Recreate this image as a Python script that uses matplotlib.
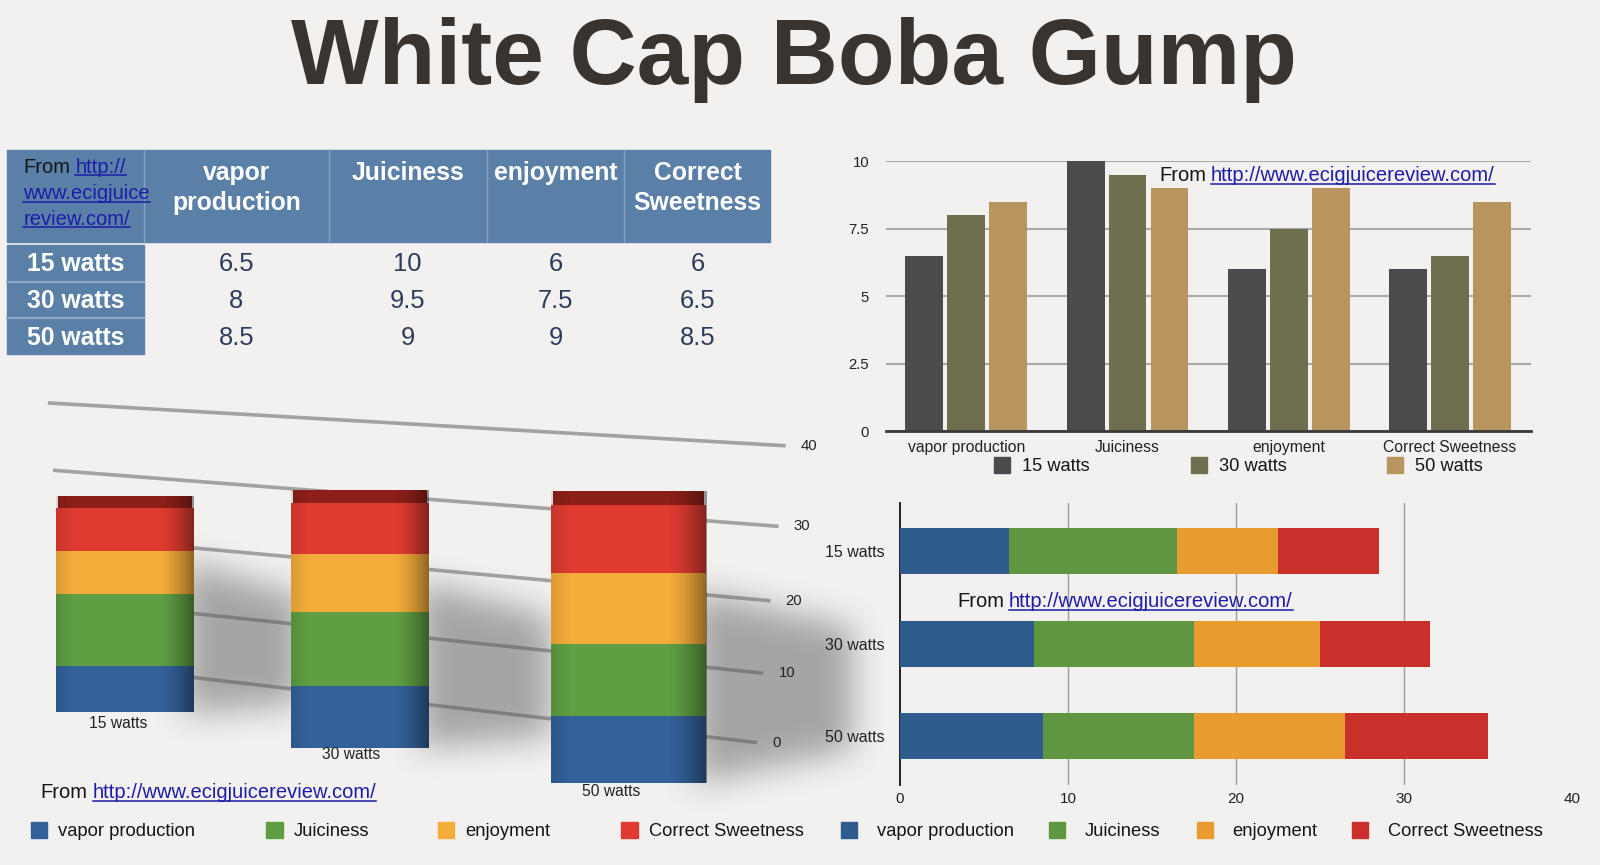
import numpy as np
import matplotlib
matplotlib.use("Agg")
import matplotlib.pyplot as plt
from matplotlib.patches import Rectangle
from matplotlib.path import Path

plt.rcParams['font.family'] = ['Liberation Sans', 'DejaVu Sans']

# ---- data ----
title = "White Cap Boba Gump"
url = "http://www.ecigjuicereview.com/"
watts = ["15 watts", "30 watts", "50 watts"]
criteria = ["vapor production", "Juiciness", "enjoyment", "Correct Sweetness"]
header_lines = [["vapor", "production"], ["Juiciness"], ["enjoyment"], ["Correct", "Sweetness"]]
vapor = [6.5, 8, 8.5]
juiciness = [10, 9.5, 9]
enjoyment = [6, 7.5, 9]
sweetness = [6, 6.5, 8.5]
scores = [vapor, juiciness, enjoyment, sweetness]
value_ticks = [0, 2.5, 5, 7.5, 10]
value_tick_labels = ["0", "2.5", "5", "7.5", "10"]
total_ticks = [0, 10, 20, 30, 40]

# ---- style ----
# layout works in a 1568 x 848 coordinate space, scaled to the 1600 x 865 output
W, H = 1568, 848
FS = 1600 / 1568
BG = '#f2f1f0'
HEAD = '#5b80a8'
LINK = '#1c1ca8'
watt_colors = ['#4b4b4e', '#6f6f50', '#b8955f']
colors_3d = ['#33619a', '#5f9e43', '#f4ac3a', '#df3b31']
colors_h = ['#2f5b8d', '#5f9641', '#e89b2e', '#c9302b']

fig = plt.figure(figsize=(16, 8.65), dpi=100, facecolor=BG)
bg = fig.add_axes([0, 0, 1, 1])
bg.set_xlim(0, W)
bg.set_ylim(H, 0)
bg.axis('off')
bg.set_zorder(0)
fg = fig.add_axes([0, 0, 1, 1])
fg.set_xlim(0, W)
fg.set_ylim(H, 0)
fg.axis('off')
fg.set_zorder(10)
renderer = fig.canvas.get_renderer()


def px_axes(x0, y0, x1, y1, z=2):
    ax = fig.add_axes([x0 / W, 1 - y1 / H, (x1 - x0) / W, (y1 - y0) / H])
    ax.set_zorder(z)
    ax.patch.set_alpha(0)
    return ax


def draw_parts(x, y, parts, size, ax=bg):
    # parts: list of (text, is_link); y is the baseline
    inv = ax.transData.inverted()
    for txt, is_link in parts:
        t = ax.text(x, y, txt, fontsize=size * FS, va='baseline', ha='left',
                    color=LINK if is_link else '#151515')
        bb = t.get_window_extent(renderer)
        x_end = inv.transform((bb.x1, bb.y0))[0]
        if is_link:
            ax.plot([x, x_end], [y + 2.5, y + 2.5], color=LINK, lw=1.1)
        x = x_end + size * 1.36 * 0.25


# ---- title ----
bg.text(778, 82, title, ha='center', va='baseline', fontsize=65.5 * FS,
        fontweight='bold', color='#3a3431')

# ---- table ----
col_edges = [7, 141, 322, 477, 612, 755]
row_base = [266, 302, 338]
bg.add_patch(Rectangle((7, 147), 748, 90, color=HEAD, zorder=1))
for xe in col_edges[1:-1]:
    bg.plot([xe, xe], [147, 237], color='#86a3c3', lw=1, zorder=1.5)
bg.add_patch(Rectangle((7, 240), 134, 107, color=HEAD, zorder=1))
for ye in [276, 312]:
    bg.plot([7, 141], [ye, ye], color='#8ba7c6', lw=1.5, zorder=1.5)

draw_parts(23, 169.5, [("From", False), ("http://", True)], 14.2)
draw_parts(23, 195.5, [("www.ecigjuice", True)], 14.2)
draw_parts(23, 220.5, [("review.com/", True)], 14.2)

for c, lines in enumerate(header_lines):
    cx = (col_edges[c + 1] + col_edges[c + 2]) / 2
    for k, ln in enumerate(lines):
        bg.text(cx, 176 + 30 * k, ln, ha='center', va='baseline', fontsize=17.5 * FS,
                fontweight='bold', color='white', zorder=2)

for r, w in enumerate(watts):
    bg.text(74, row_base[r], w, ha='center', va='baseline', fontsize=17.5 * FS,
            fontweight='bold', color='white', zorder=2)
    for c in range(4):
        cx = (col_edges[c + 1] + col_edges[c + 2]) / 2
        bg.text(cx, row_base[r], f"{scores[c][r]:g}", ha='center', va='baseline',
                fontsize=18 * FS, color='#2d3c5c', zorder=2)

# ---- top right grouped bars ----
gx = px_axes(868, 158, 1500, 423)
x = np.arange(len(criteria))
for k in range(len(watts)):
    gx.bar(x + (k - 1) * 0.26, [s[k] for s in scores], width=0.235,
           color=watt_colors[k], zorder=3)
gx.set_xlim(-0.5, 3.5)
gx.set_ylim(0, 10)
gx.set_yticks(value_ticks, value_tick_labels)
gx.set_xticks(x, criteria)
gx.yaxis.grid(True, color='#a9a9a9', lw=1.5)
gx.set_axisbelow(True)
for s in ['top', 'right', 'left']:
    gx.spines[s].set_visible(False)
gx.spines['bottom'].set_color('#3a3a3a')
gx.spines['bottom'].set_linewidth(2)
gx.spines['bottom'].set_zorder(4)
gx.tick_params(axis='y', length=0, pad=12, labelsize=10.5 * FS, labelcolor='#222')
gx.tick_params(axis='x', length=0, pad=6, labelsize=11.1 * FS, labelcolor='#222')
draw_parts(1136, 177.5, [("From", False), (url, True)], 14.2)

leg_x = [974, 1167, 1359]
for k, w in enumerate(watts):
    bg.add_patch(Rectangle((leg_x[k], 448), 16, 16, color=watt_colors[k]))
    bg.text(leg_x[k] + 28, 462, w, fontsize=12.9 * FS, va='baseline', color='#151515')

# ---- horizontal stacked bars ----
hx = px_axes(882, 493, 1541, 770)
left = np.zeros(len(watts))
for j, series in enumerate(scores):
    hx.barh(np.arange(len(watts)), series, left=left, height=0.5,
            color=colors_h[j], zorder=3)
    left += np.array(series)
hx.set_xlim(0, 40)
hx.set_ylim(2.53, -0.52)
hx.set_xticks(total_ticks)
hx.set_yticks(np.arange(len(watts)), watts)
for v in total_ticks[1:-1]:
    hx.axvline(v, color='#9c9c9c', lw=1, zorder=1)
for s in ['top', 'right', 'bottom']:
    hx.spines[s].set_visible(False)
hx.spines['left'].set_color('#111')
hx.spines['left'].set_linewidth(1.3)
hx.tick_params(axis='x', length=0, pad=5, labelsize=10.8 * FS, labelcolor='#222')
hx.tick_params(axis='y', length=0, pad=11, labelsize=11.3 * FS, labelcolor='#222')
draw_parts(938, 595.5, [("From", False), (url, True)], 14.2, ax=fg)

# ---- 3D-look stacked bars ----
grid3d = {0: ((67, 650), (742, 728)), 10: ((62, 588), (748, 660)),
          20: ((57, 525), (755, 589)), 30: ((52, 461), (763, 516)),
          40: ((47, 395), (770, 437))}
for v in total_ticks:
    (xa, ya), (xb, yb) = grid3d[v]
    bg.plot([xa, xb], [ya, yb], color='#a2a2a2', lw=2.6, zorder=0.5,
            solid_capstyle='butt')
    bg.text(xb + 15, yb, str(v), fontsize=10.5 * FS, va='center', ha='left', color='#222')

# soft shadows behind the bars
sx0, sx1, sy0, sy1 = 0, 900, 380, 800
yy, xx = np.mgrid[sy0:sy1, sx0:sx1]
pts = np.column_stack([xx.ravel() + 0.5, yy.ravel() + 0.5])
mask = np.zeros(xx.shape)
shadow_polys = [[(180, 550), (295, 585), (295, 690), (180, 700)],
                [(410, 570), (540, 605), (540, 722), (410, 733)],
                [(680, 580), (835, 615), (835, 735), (680, 768)]]
for poly in shadow_polys:
    mask = np.maximum(mask, Path(poly).contains_points(pts).reshape(xx.shape))
kern = np.ones(37) / 37
for _ in range(2):
    mask = np.apply_along_axis(lambda m: np.convolve(m, kern, mode='same'), 1, mask)
    mask = np.apply_along_axis(lambda m: np.convolve(m, kern, mode='same'), 0, mask)
shadow = np.zeros(xx.shape + (4,))
shadow[..., :3] = 0.35
shadow[..., 3] = mask * 0.5
bg.imshow(shadow, extent=(sx0, sx1, sy1, sy0), zorder=1, interpolation='bilinear')
bg.set_xlim(0, W)
bg.set_ylim(H, 0)
bg.set_aspect('auto')

bar_geom = [(55, 190, 698, 7.0), (285, 420, 733, 7.6), (540, 692, 768, 7.8)]
shade = np.zeros((1, 64, 4))
prof = np.linspace(0, 1, 64)
shade[0, :, 3] = 0.10 * (1 - prof / 0.12).clip(0) + 0.40 * ((prof - 0.75) / 0.25).clip(0) ** 1.5
for i, (x0, x1, base, s) in enumerate(bar_geom):
    ax = px_axes(x0, base - 40 * s, x1, base, z=3)
    bottom = 0
    for j, series in enumerate(scores):
        ax.bar(0.5, series[i], width=1, bottom=bottom, color=colors_3d[j])
        bottom += series[i]
    ax.bar(0.5, 1.7, width=0.97, bottom=bottom, color='#8c1f18')
    ax.imshow(shade, extent=(0, 1, 0, bottom + 1.7), aspect='auto', zorder=3)
    ax.set_xlim(0, 1)
    ax.set_ylim(0, 40)
    ax.axis('off')

bar_label_pos = [(116, 709), (344, 740), (599, 776)]
for (lx, ly), w in zip(bar_label_pos, watts):
    fg.text(lx, ly, w, fontsize=11 * FS, ha='center', va='center', color='#222')
draw_parts(40, 782.5, [("From", False), (url, True)], 14.2, ax=fg)

# ---- bottom legends ----
leg_left = [30, 261, 429, 609]
leg_right = [824, 1028, 1173, 1325]
for j, name in enumerate(criteria):
    bg.add_patch(Rectangle((leg_left[j], 806), 16, 16, color=colors_3d[j]))
    bg.text(leg_left[j] + 27, 820, name, fontsize=13 * FS, va='baseline', color='#151515')
    bg.add_patch(Rectangle((leg_right[j], 806), 16, 16, color=colors_h[j]))
    bg.text(leg_right[j] + 35, 820, name, fontsize=13 * FS, va='baseline', color='#151515')

fig.savefig("out.png", dpi=100, facecolor=BG)
